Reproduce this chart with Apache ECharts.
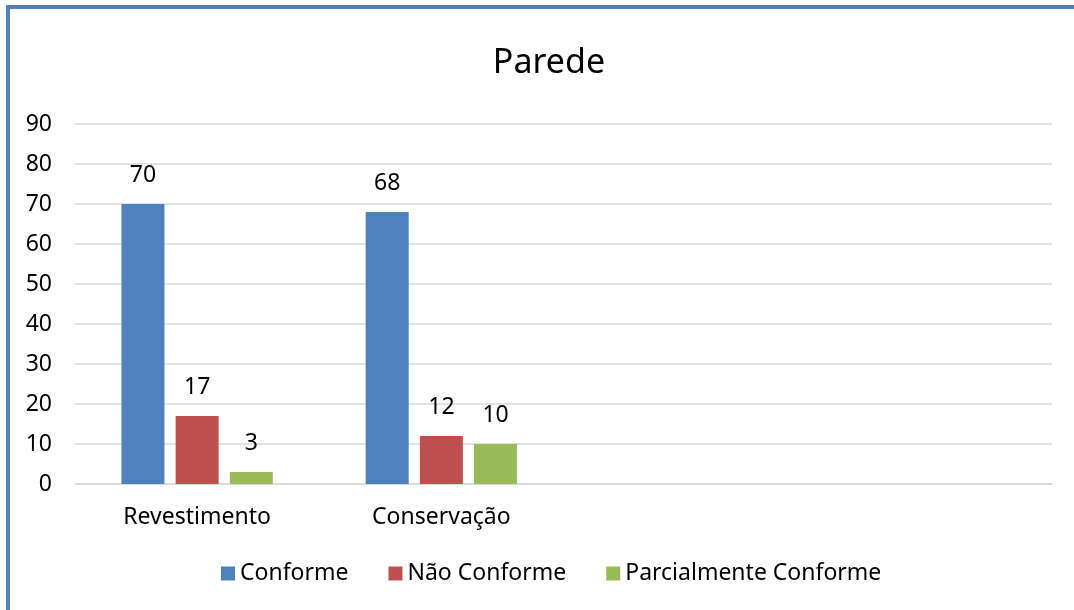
<!DOCTYPE html>
<html>
<head>
<meta charset="utf-8">
<script src="https://cdn.jsdelivr.net/npm/echarts@6/dist/echarts.min.js"></script>
<style>
    html, body { margin: 0; padding: 0; background: #fff; }
    #chart { width: 1074px; height: 610px; }
</style>
</head>
<body>
<div id="chart"></div>
<script>
var categories = ["Revestimento", "Conservação", "", ""];
var conforme = [70, 68, null, null];
var naoConforme = [17, 12, null, null];
var parcialmente = [3, 10, null, null];
var yTicks = [0, 10, 20, 30, 40, 50, 60, 70, 80, 90];

var fontName = "'Noto Sans', sans-serif";
var chart = echarts.init(document.getElementById("chart"));

function barSeries(name, data, color){
    return {
        name: name,
        type: "bar",
        data: data,
        barWidth: 43,
        barGap: "26%",
        itemStyle: { color: color },
        label: {
            show: true,
            position: "top",
            distance: 17,
            color: "#000",
            fontSize: 23,
            fontFamily: fontName
        }
    };
}

var option = {
    animation: false,
    backgroundColor: "#fff",
    textStyle: { fontFamily: fontName },
    title: {
        text: "Parede",
        left: 544,
        textAlign: "center",
        top: 41,
        textStyle: { fontSize: 34, fontWeight: "normal", color: "#000", fontFamily: fontName }
    },
    legend: {
        bottom: 20,
        left: 216,
        itemWidth: 14,
        itemHeight: 14,
        itemGap: 40,
        icon: "rect",
        textStyle: { fontSize: 23, color: "#000", fontFamily: fontName },
        data: ["Conforme", "Não Conforme", "Parcialmente Conforme"]
    },
    grid: { left: 75, right: 22, top: 124, bottom: 126, containLabel: false },
    xAxis: {
        type: "category",
        data: categories,
        axisLine: { lineStyle: { color: "#d9d9d9", width: 1.5 } },
        axisTick: { show: false },
        axisLabel: { color: "#000", fontSize: 23, margin: 22, fontFamily: fontName }
    },
    yAxis: {
        type: "value",
        min: yTicks[0],
        max: yTicks[yTicks.length - 1],
        interval: 10,
        axisLine: { show: false },
        axisTick: { show: false },
        splitLine: { lineStyle: { color: "#d9d9d9", width: 1.5 } },
        axisLabel: { color: "#000", fontSize: 23, margin: 23, fontFamily: fontName }
    },
    graphic: [
        { type: "rect", shape: { x: 6, y: 5, width: 1074, height: 4 }, style: { fill: "#4f81bd" } },
        { type: "rect", shape: { x: 6, y: 5, width: 4, height: 610 }, style: { fill: "#4f81bd" } }
    ],
    series: [
        barSeries("Conforme", conforme, "#4f81bd"),
        barSeries("Não Conforme", naoConforme, "#c0504d"),
        barSeries("Parcialmente Conforme", parcialmente, "#9bbb59")
    ]
};

chart.setOption(option);
</script>
</body>
</html>
